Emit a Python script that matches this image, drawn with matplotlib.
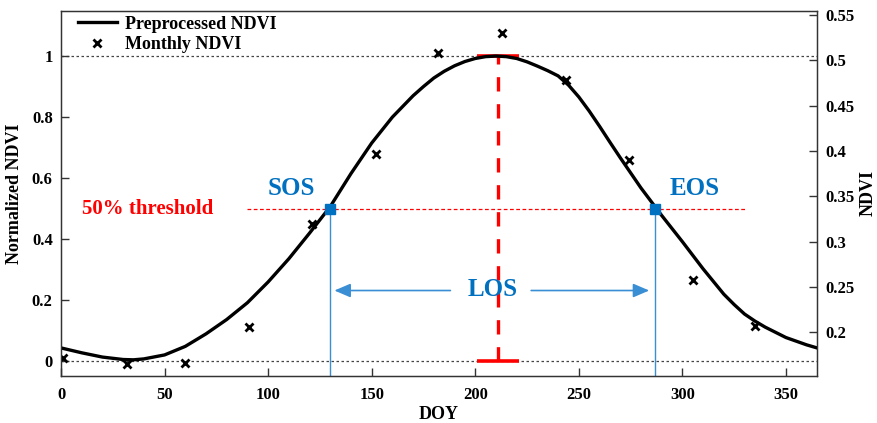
import matplotlib
matplotlib.use("Agg")
import matplotlib.pyplot as plt

plt.rcParams['font.family'] = ['Liberation Serif', 'DejaVu Serif']
plt.rcParams['font.weight'] = 'bold'

# ---- data ----
curve_doy = [0, 10, 20, 30, 35, 40, 50, 60, 70, 80, 90, 100, 110, 120, 130,
             140, 150, 160, 170, 175, 180, 185, 190, 195, 200, 205, 210, 215,
             220, 225, 230, 235, 240, 245, 250, 255, 260, 265, 270, 280, 290,
             300, 310, 320, 325, 330, 335, 340, 350, 360, 365]
curve_ndvi = [0.044, 0.028, 0.014, 0.006, 0.005, 0.008, 0.021, 0.049, 0.090,
              0.137, 0.192, 0.260, 0.336, 0.420, 0.507, 0.615, 0.715, 0.800,
              0.870, 0.900, 0.928, 0.950, 0.968, 0.982, 0.992, 0.998, 1.000,
              0.998, 0.992, 0.981, 0.967, 0.952, 0.935, 0.905, 0.866, 0.820,
              0.770, 0.718, 0.667, 0.568, 0.478, 0.392, 0.303, 0.220, 0.186,
              0.155, 0.132, 0.112, 0.078, 0.054, 0.044]
monthly_doy = [1, 32, 60, 91, 121, 152, 182, 213, 244, 274, 305, 335]
monthly_ndvi = [0.011, -0.008, -0.005, 0.111, 0.451, 0.679, 1.011, 1.074,
                0.920, 0.661, 0.266, 0.115]
sos_doy, eos_doy, peak_doy = 130, 287, 211
threshold = 0.5
x_ticks = [0, 50, 100, 150, 200, 250, 300, 350]
y_ticks = [0, 0.2, 0.4, 0.6, 0.8, 1]
y_ticklabels = ['0', '0.2', '0.4', '0.6', '0.8', '1']
y2_ticks = [0.2, 0.25, 0.3, 0.35, 0.4, 0.45, 0.5, 0.55]
y2_ticklabels = ['0.2', '0.25', '0.3', '0.35', '0.4', '0.45', '0.5', '0.55']

BLUE = '#0070C0'
LBLUE = '#3a8fd4'
RED = '#FF0000'

fig = plt.figure(figsize=(8.77, 4.23), dpi=100)
ax = fig.add_axes([61/877, 1-376/423, (817-61)/877, (376-11)/423])
ax.set_xlim(0, 365)
ax.set_ylim(-0.048, 1.1475)

# reference lines at 0 and 1
ax.axhline(0, color='#444444', lw=0.9, ls=(0, (2, 2)), zorder=1)
ax.axhline(1, color='#444444', lw=0.9, ls=(0, (2, 2)), zorder=1)

# threshold line
ax.plot([90, 331], [threshold, threshold], color=RED, lw=0.9, ls=(0, (3, 2)), zorder=1)

# SOS / EOS vertical lines
ax.plot([sos_doy, sos_doy], [-0.048, threshold], color=LBLUE, lw=1.0, zorder=2)
ax.plot([eos_doy, eos_doy], [-0.048, threshold], color=LBLUE, lw=1.0, zorder=2)

# peak dashed line with caps
ax.plot([peak_doy, peak_doy], [0, 1], color=RED, lw=2.4, ls=(0, (4.3, 3.8)), zorder=2)
ax.plot([peak_doy - 10, peak_doy + 10], [1, 1], color=RED, lw=2.6, zorder=2, solid_capstyle='butt')
ax.plot([peak_doy - 10, peak_doy + 10], [0, 0], color=RED, lw=2.6, zorder=2, solid_capstyle='butt')

# curve and monthly points
ln, = ax.plot(curve_doy, curve_ndvi, color='black', lw=2.4, zorder=3,
              label='Preprocessed NDVI', solid_joinstyle='round')
mk, = ax.plot(monthly_doy, monthly_ndvi, ls='none', marker='x', color='black',
              ms=5.5, mew=2.0, zorder=4, label='Monthly NDVI')

# SOS/EOS markers
ax.plot([sos_doy, eos_doy], [threshold, threshold], ls='none', marker='s',
        color=BLUE, ms=6.5, zorder=5)

# LOS arrows
los_y = 0.232
ax.annotate('', xy=(sos_doy + 2, los_y), xytext=(188, los_y),
            arrowprops=dict(arrowstyle='-|>,head_length=0.7,head_width=0.3',
                            color=LBLUE, lw=1.2, mutation_scale=14,
                            shrinkA=0, shrinkB=0))
ax.annotate('', xy=(eos_doy - 3, los_y), xytext=(227, los_y),
            arrowprops=dict(arrowstyle='-|>,head_length=0.7,head_width=0.3',
                            color=LBLUE, lw=1.2, mutation_scale=14,
                            shrinkA=0, shrinkB=0))

# texts
ax.text(10, threshold, '50% threshold', color=RED, fontsize=15,
        fontweight='bold', ha='left', va='center')
ax.text(111, 0.565, 'SOS', color=BLUE, fontsize=18, fontweight='bold',
        ha='center', va='center')
ax.text(306, 0.565, 'EOS', color=BLUE, fontsize=18, fontweight='bold',
        ha='center', va='center')
ax.text(208.5, los_y + 0.003, 'LOS', color=BLUE, fontsize=18, fontweight='bold',
        ha='center', va='center')

# axes formatting
for s in ax.spines.values():
    s.set_color('#333333')
    s.set_linewidth(1.0)
ax.set_xticks(x_ticks)
ax.set_yticks(y_ticks)
ax.set_yticklabels(y_ticklabels)
ax.tick_params(direction='in', length=6, width=1.0, color='#333333',
               labelsize=12, pad=6)
ax.tick_params(axis='x', pad=8)
ax.set_xlabel('DOY', fontsize=13, fontweight='bold', labelpad=2)
ax.set_ylabel('Normalized NDVI', fontsize=13, fontweight='bold', labelpad=6)
for lab in ax.get_xticklabels() + ax.get_yticklabels():
    lab.set_fontweight('bold')

ax2 = ax.twinx()
ax2.set_ylim(0.1518, 0.5544)
ax2.set_yticks(y2_ticks)
ax2.set_yticklabels(y2_ticklabels)
ax2.tick_params(direction='in', length=6, width=1.0, color='#333333',
                labelsize=12, pad=6)
for lab in ax2.get_yticklabels():
    lab.set_fontweight('bold')
for s in ax2.spines.values():
    s.set_color('#333333')
fig.text(868/877, 1 - 193/423, 'NDVI', rotation=90, fontsize=13,
         fontweight='bold', ha='center', va='center')

leg = ax.legend(handles=[ln, mk], loc='upper left', frameon=False,
                fontsize=13, handlelength=2.2, handletextpad=0.4,
                borderaxespad=0.1, labelspacing=0.2,
                bbox_to_anchor=(0.01, 1.012))
for t in leg.get_texts():
    t.set_fontweight('bold')

fig.savefig('out.png', dpi=100)
